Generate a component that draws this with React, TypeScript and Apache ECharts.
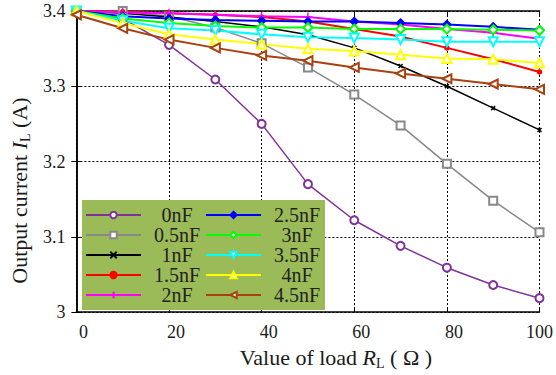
import React, { useEffect, useRef } from 'react';
import * as echarts from 'echarts';

const xValues = [0, 10, 20, 30, 40, 50, 60, 70, 80, 90, 100];
const seriesNames = ['0nF', '0.5nF', '1nF', '1.5nF', '2nF', '2.5nF', '3nF', '3.5nF', '4nF', '4.5nF'];
const s0nF = [3.4, 3.39, 3.355, 3.309, 3.25, 3.17, 3.122, 3.088, 3.059, 3.036, 3.0185];
const s05nF = [3.4, 3.4, 3.393, 3.378, 3.357, 3.325, 3.289, 3.248, 3.197, 3.148, 3.106];
const s1nF = [3.4, 3.397, 3.392, 3.386, 3.379, 3.3685, 3.351, 3.327, 3.3, 3.271, 3.242];
const s15nF = [3.4, 3.399, 3.397, 3.395, 3.392, 3.386, 3.376, 3.366, 3.351, 3.336, 3.319];
const s2nF = [3.4, 3.398, 3.397, 3.395, 3.393, 3.392, 3.386, 3.382, 3.376, 3.371, 3.363];
const s25nF = [3.4, 3.393, 3.39, 3.388, 3.387, 3.386, 3.386, 3.384, 3.382, 3.379, 3.375];
const s3nF = [3.4, 3.39, 3.384, 3.38, 3.378, 3.378, 3.376, 3.376, 3.376, 3.375, 3.374];
const s35nF = [3.4, 3.387, 3.377, 3.374, 3.369, 3.365, 3.364, 3.362, 3.359, 3.359, 3.359];
const s4nF = [3.4, 3.384, 3.369, 3.362, 3.356, 3.35, 3.347, 3.342, 3.337, 3.336, 3.331];
const s45nF = [3.395, 3.377, 3.362, 3.351, 3.341, 3.334, 3.325, 3.317, 3.31, 3.303, 3.296];
const allSeries = [s0nF, s05nF, s1nF, s15nF, s2nF, s25nF, s3nF, s35nF, s4nF, s45nF];

const FONT = "'Liberation Serif', 'Times New Roman', serif";

const styles = [
  { color: '#80329a', symbol: 'emptyCircle', size: 8, rotate: 0, width: 1.5 },
  { color: '#888888', symbol: 'emptyRect', size: 8, rotate: 0, width: 1.5 },
  { color: '#000000', symbol: 'path://M0,0L10,10M10,0L0,10', size: 4, rotate: 0, width: 1.5 },
  { color: '#ff0000', symbol: 'circle', size: 4, rotate: 0, width: 2 },
  { color: '#ff00ff', symbol: 'path://M5,0L5,10M0,5L10,5', size: 9, rotate: 0, width: 2 },
  { color: '#0000ff', symbol: 'diamond', size: 8, rotate: 0, width: 2 },
  { color: '#00ff00', symbol: 'emptyDiamond', size: 9, rotate: 0, width: 2 },
  { color: '#00ffff', symbol: 'emptyTriangle', size: 9, rotate: 180, width: 2 },
  { color: '#ffff00', symbol: 'emptyTriangle', size: 9, rotate: 0, width: 2 },
  { color: '#a8400f', symbol: 'emptyTriangle', size: 9, rotate: 90, width: 2 },
];

export default function App() {
  const ref = useRef<HTMLDivElement>(null);
  useEffect(() => {
    if (!ref.current) return;
    const chart = echarts.init(ref.current, null, { renderer: 'svg' });
    const legendBase = {
      orient: 'vertical',
      itemWidth: 55,
      itemHeight: 8,
      itemGap: 0,
      padding: 0,
      z: 5,
      formatter: (name: string) => '{c|' + name + '}',
      textStyle: {
        fontFamily: FONT,
        fontSize: 20,
        color: '#222',
        lineHeight: 20,
        rich: { c: { fontFamily: FONT, fontSize: 20, color: '#222', width: 62, align: 'center', lineHeight: 20 } },
      },
    };
    const axisCommonX = {
      type: 'value',
      min: 0,
      max: 100,
      interval: 20,
      axisLine: { show: true, lineStyle: { color: '#000', width: 1.5 } },
      axisTick: { show: true, inside: true, length: 5, lineStyle: { color: '#000' } },
    };
    const axisCommonY = {
      type: 'value',
      min: 3,
      max: 3.4,
      interval: 0.1,
      axisLine: { show: true, lineStyle: { color: '#000', width: 1.5 } },
      axisTick: { show: true, inside: true, length: 5, lineStyle: { color: '#000' } },
    };
    const labelRich = {
      t: { fontFamily: FONT, fontSize: 22, color: '#1a1a1a', lineHeight: 26 },
      i: { fontFamily: FONT, fontSize: 22, color: '#1a1a1a', fontStyle: 'italic', lineHeight: 26 },
      s: { fontFamily: FONT, fontSize: 14, color: '#1a1a1a', lineHeight: 16, verticalAlign: 'bottom' },
    };
    chart.setOption({
      animation: false,
      grid: { left: 76, right: 13, top: 11, bottom: 59 },
      graphic: [
        { type: 'rect', z: 3, shape: { x: 82, y: 200, width: 243, height: 110 }, style: { fill: '#9bbb59' } },
      ],
      legend: [
        { ...legendBase, data: seriesNames.slice(0, 5), left: 85, top: 205 },
        { ...legendBase, data: seriesNames.slice(5), left: 205, top: 205 },
      ],
      xAxis: [
        {
          ...axisCommonX,
          position: 'bottom',
          axisLabel: {
            fontFamily: FONT,
            fontSize: 18,
            color: '#1a1a1a',
            margin: 11,
            formatter: (v: number) => (v === 100 ? '{b|100}' : '{a|' + v + '}'),
            rich: {
              a: { fontFamily: FONT, fontSize: 18, color: '#1a1a1a', padding: [0, 0, 0, 14] },
              b: { fontFamily: FONT, fontSize: 18, color: '#1a1a1a' },
            },
          },
          splitLine: { show: true, lineStyle: { color: '#000', type: [2, 2], width: 1 } },
          name: '{t|Value of load }{i|R}{s|L}{t| ( Ω )}',
          nameLocation: 'middle',
          nameGap: 29,
          nameTextStyle: { padding: [0, 0, 0, 56], rich: labelRich },
        },
        {
          ...axisCommonX,
          position: 'top',
          axisLabel: { show: false },
          splitLine: { show: false },
        },
      ],
      yAxis: [
        {
          ...axisCommonY,
          position: 'left',
          axisLabel: {
            fontFamily: FONT,
            fontSize: 18,
            color: '#1a1a1a',
            margin: 11,
            formatter: (v: number) => (Math.abs(v - 3) < 1e-9 ? '3' : v.toFixed(1)),
          },
          splitLine: { show: true, lineStyle: { color: '#000', type: [2, 2], width: 1 } },
          name: '{t|Output current }{i|I}{s|L}{t| (A)}',
          nameLocation: 'middle',
          nameGap: 44,
          nameTextStyle: { padding: [0, 58, 0, 0], rich: labelRich },
        },
        {
          ...axisCommonY,
          position: 'right',
          axisLabel: { show: false },
          splitLine: { show: false },
        },
      ],
      series: allSeries.map((arr, k) => ({
        name: seriesNames[k],
        type: 'line',
        xAxisIndex: 0,
        yAxisIndex: 0,
        data: xValues.map((x, i) => [x, arr[i]]),
        symbol: styles[k].symbol,
        symbolSize: styles[k].size,
        symbolRotate: styles[k].rotate,
        showAllSymbol: true,
        lineStyle: { color: styles[k].color, width: styles[k].width },
        itemStyle: { color: styles[k].color, borderColor: styles[k].color, borderWidth: 1.5 },
        z: 2,
      })),
    });
    return () => chart.dispose();
  }, []);
  return <div ref={ref} style={{ width: 556, height: 375, position: 'absolute', left: 0, top: 0 }} />;
}
